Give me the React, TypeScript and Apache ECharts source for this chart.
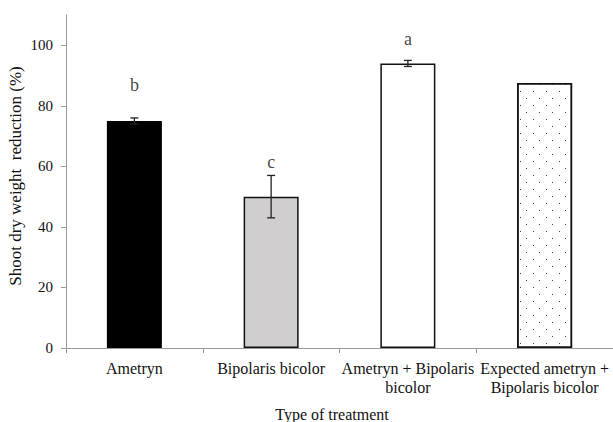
import React, { useEffect, useRef } from "react";
import * as echarts from "echarts";

const categories = [
  "Ametryn",
  "Bipolaris bicolor",
  "Ametryn + Bipolaris\nbicolor",
  "Expected ametryn +\nBipolaris bicolor",
];
const values = [75, 50, 94, 87.5];
const errors = [1, 7, 1, 0];
const letters = ["b", "c", "a", ""];
const letterY = [87, 61.5, 102, 0];
const yTicks = [0, 20, 40, 60, 80, 100];

const FONT = "Liberation Serif";

export default function App() {
  const ref = useRef<HTMLDivElement>(null);
  useEffect(() => {
    if (!ref.current) return;
    const chart = echarts.init(ref.current, undefined, { renderer: "svg" });
    const fills = [
      { color: "#000000", borderColor: "#000", borderWidth: 1.5 },
      { color: "#d0cecf", borderColor: "#111", borderWidth: 1.5 },
      { color: "#ffffff", borderColor: "#111", borderWidth: 1.5 },
      {
        color: "#ffffff",
        borderColor: "#111",
        borderWidth: 1.5,
        decal: {
          symbol: "rect",
          symbolSize: 1,
          color: "#444",
          backgroundColor: "#ffffff",
          dashArrayX: [
            [1, 12],
            [0, 6, 1, 6],
          ],
          dashArrayY: [1, 6],
          rotation: 0,
        },
      },
    ];
    const option: any = {
      animation: false,
      grid: { left: 66, right: -1, top: 15, bottom: 74 },
      graphic: [
        {
          type: "text",
          x: 332,
          y: 414,
          style: {
            text: "Type of treatment",
            fontFamily: FONT,
            fontSize: 16,
            fill: "#111",
            textAlign: "center",
            textVerticalAlign: "middle",
          },
        },
        {
          type: "text",
          x: 15,
          y: 176,
          rotation: Math.PI / 2,
          style: {
            text: "Shoot dry weight  reduction (%)",
            fontFamily: FONT,
            fontSize: 17,
            fill: "#111",
            textAlign: "center",
            textVerticalAlign: "middle",
          },
        },
      ],
      xAxis: {
        type: "category",
        data: categories,
        boundaryGap: true,
        axisLine: { lineStyle: { color: "#999", width: 1 } },
        axisTick: { show: true, length: 5, lineStyle: { color: "#999" } },
        axisLabel: {
          fontFamily: FONT,
          fontSize: 16,
          color: "#111",
          margin: 11,
          lineHeight: 19,
          interval: 0,
        },
      },
      yAxis: {
        type: "value",
        min: 0,
        max: 110,
        interval: 20,
        splitLine: { show: false },
        axisLine: { show: true, lineStyle: { color: "#999", width: 1 } },
        axisTick: {
          show: true,
          length: 5,
          lineStyle: { color: "#999" },
          customValues: yTicks,
        },
        axisLabel: {
          fontFamily: FONT,
          fontSize: 15,
          color: "#111",
          margin: 13,
          customValues: yTicks,
        },
      },
      series: [
        {
          type: "bar",
          barWidth: 55,
          data: values.map((v, i) => ({ value: v, itemStyle: fills[i] })),
        },
        {
          type: "custom",
          data: values
            .map((v, i) => [i, v - errors[i], v + errors[i]])
            .filter((d, i) => errors[i] > 0),
          renderItem: (params: any, api: any) => {
            const lo = api.coord([api.value(0), api.value(1)]);
            const hi = api.coord([api.value(0), api.value(2)]);
            const hw = 4;
            const style = { stroke: "#222", lineWidth: 1.3 };
            return {
              type: "group",
              children: [
                { type: "line", shape: { x1: hi[0], y1: hi[1], x2: lo[0], y2: lo[1] }, style },
                { type: "line", shape: { x1: hi[0] - hw, y1: hi[1], x2: hi[0] + hw, y2: hi[1] }, style },
                { type: "line", shape: { x1: lo[0] - hw, y1: lo[1], x2: lo[0] + hw, y2: lo[1] }, style },
              ],
            };
          },
          z: 5,
        },
        {
          type: "scatter",
          symbolSize: 0,
          data: letters
            .map((l, i) => ({ value: [i, letterY[i]], name: l }))
            .filter((d) => d.name !== ""),
          label: {
            show: true,
            position: "inside",
            formatter: (p: any) => p.name,
            fontFamily: FONT,
            fontSize: 18,
            color: "#111",
          },
          z: 6,
        },
      ],
    };
    chart.setOption(option);
    return () => chart.dispose();
  }, []);
  return (
    <div
      ref={ref}
      style={{ position: "fixed", left: 0, top: 0, width: 613, height: 422, background: "#fff" }}
    />
  );
}
